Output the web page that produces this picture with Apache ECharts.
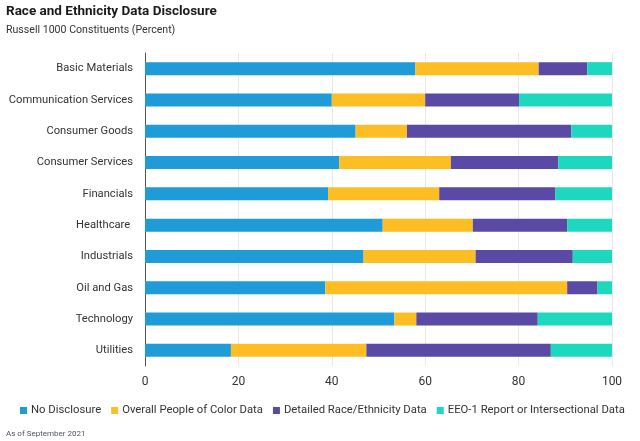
<!DOCTYPE html>
<html>
<head>
<meta charset="utf-8">
<script src="https://cdn.jsdelivr.net/npm/echarts@6/dist/echarts.min.js"></script>
<style>
  html, body { margin: 0; padding: 0; background: #fff; }
  #chart { width: 640px; height: 441px; }
</style>
</head>
<body>
<div id="chart"></div>
<script>
// sectors, top to bottom
var sectors = ['Basic Materials', 'Communication Services', 'Consumer Goods', 'Consumer Services',
    'Financials', 'Healthcare ', 'Industrials', 'Oil and Gas', 'Technology', 'Utilities']
var noDisclosure = [57.9, 40.0, 45.1, 41.6, 39.2, 50.9, 46.8, 38.6, 53.4, 18.4]
var overallPoc = [26.4, 20.0, 11.0, 23.9, 23.8, 19.3, 24.0, 51.8, 4.7, 29.0]
var detailedRace = [10.4, 20.1, 35.2, 23.0, 24.9, 20.2, 20.8, 6.5, 26.0, 39.5]
var eeoReport = [5.3, 19.9, 8.7, 11.5, 12.1, 9.6, 8.4, 3.1, 15.9, 13.1]
var xTicks = [0, 20, 40, 60, 80, 100]

var font = 'Roboto'
let bar = function (name, data, color) {
    return {
        name: name,
        type: 'bar',
        stack: 'all',
        data: data,
        barWidth: 13,
        itemStyle: { color: color },
        emphasis: { disabled: true }
    }
}

let myChart = echarts.init(document.getElementById('chart'))
let option = {
    animation: false,
    textStyle: { fontFamily: font },
    title: [{
        text: 'Race and Ethnicity Data Disclosure',
        left: 6,
        top: 5,
        padding: 0,
        textStyle: { fontSize: 13.5, fontWeight: 'bold', color: '#1a1a1a', fontFamily: font }
    }, {
        text: 'Russell 1000 Constituents (Percent)',
        left: 6,
        top: 25,
        padding: 0,
        textStyle: { fontSize: 10.6, fontWeight: 'normal', color: '#333', fontFamily: font }
    }, {
        text: 'As of September 2021',
        left: 6,
        top: 430,
        padding: 0,
        textStyle: { fontSize: 8, fontWeight: 'normal', color: '#4a5560', fontFamily: font }
    }],
    legend: {
        left: 20,
        top: 405,
        padding: 0,
        itemWidth: 7,
        itemHeight: 7,
        itemGap: 10,
        icon: 'rect',
        textStyle: { fontSize: 11.3, color: '#333', fontFamily: font, padding: [0, 0, 0, -1] },
        data: ['No Disclosure', 'Overall People of Color Data', 'Detailed Race/Ethnicity Data', 'EEO-1 Report or Intersectional Data']
    },
    grid: { left: 145, right: 28, top: 53, bottom: 75, containLabel: false, outerBoundsMode: 'none' },
    xAxis: {
        type: 'value',
        min: xTicks[0],
        max: xTicks[xTicks.length - 1],
        interval: 20,
        axisLine: { show: false },
        axisTick: { show: false },
        splitLine: { lineStyle: { color: '#e8e8e8', width: 1 } },
        axisLabel: { fontSize: 12, color: '#333', margin: 10, fontFamily: font }
    },
    yAxis: {
        type: 'category',
        data: sectors,
        inverse: true,
        axisLine: { lineStyle: { color: '#555', width: 1 } },
        axisTick: { show: false },
        axisLabel: { fontSize: 11.2, color: '#333', margin: 12, fontFamily: font }
    },
    series: [
        bar('No Disclosure', noDisclosure, '#1f9bd7'),
        bar('Overall People of Color Data', overallPoc, '#fdbe24'),
        bar('Detailed Race/Ethnicity Data', detailedRace, '#5a4aa6'),
        bar('EEO-1 Report or Intersectional Data', eeoReport, '#1dd8bf')
    ]
}

myChart.setOption(option)
</script>
</body>
</html>
